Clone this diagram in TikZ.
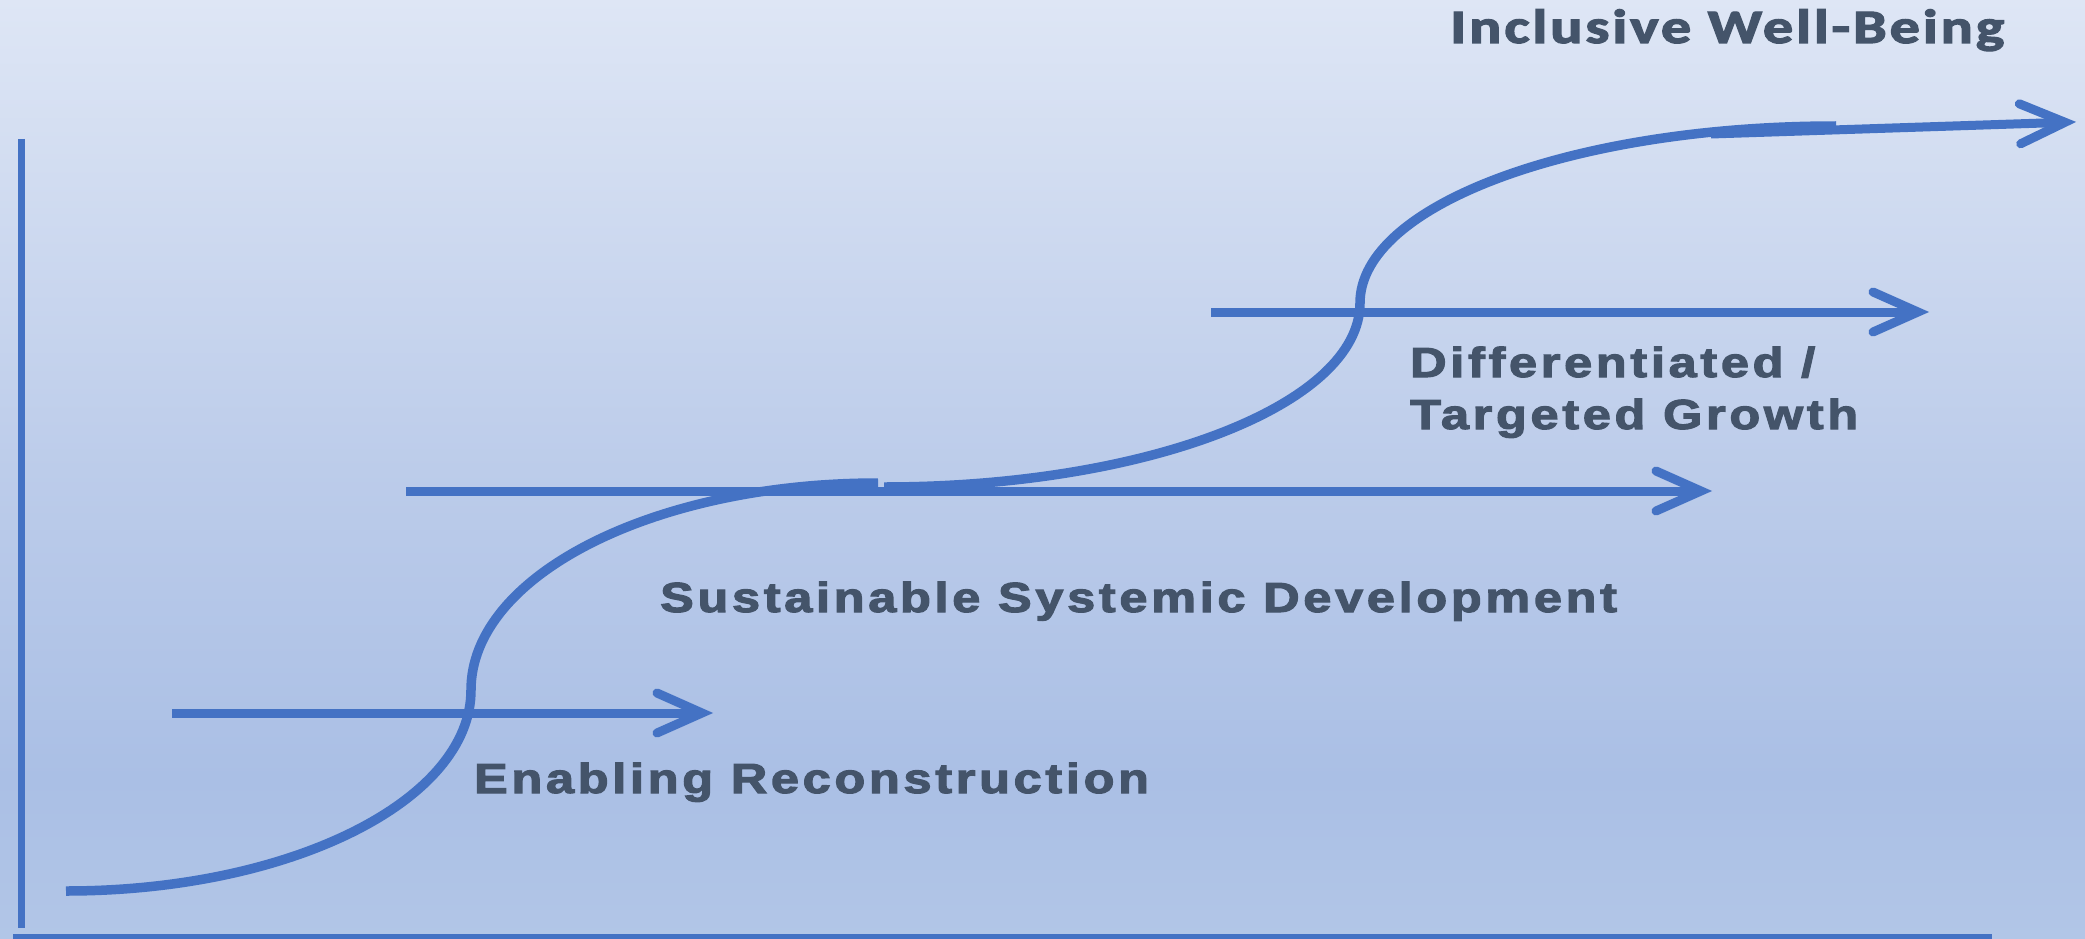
\documentclass[tikz,border=0pt]{standalone}
\usepackage{fontspec}
\newfontfamily\lsansb[LetterSpace=7.4,FakeBold=2.5]{Liberation Sans Bold}
\newfontfamily\carlb[LetterSpace=5,FakeBold=2.5]{Carlito Bold}
\newcommand{\wide}[1]{\scalebox{1.2}[1]{#1}}
\definecolor{lnblue}{HTML}{4472C4}
\definecolor{txt}{HTML}{44546A}
\definecolor{bgT}{HTML}{DEE6F5}
\definecolor{bgM}{HTML}{BCCCEA}
\definecolor{bgL}{HTML}{AABFE5}
\definecolor{bgB}{HTML}{B2C6E7}
\pgfdeclareverticalshading{bgshade}{100bp}{color(0bp)=(bgB); color(25bp)=(bgB); color(33.5bp)=(bgL); color(50bp)=(bgM); color(75bp)=(bgT); color(100bp)=(bgT)}
\tikzset{
  ln/.style={draw=lnblue, line width=9pt, line cap=butt},
  crv/.style={draw=lnblue, line width=9.5pt, line cap=butt},
  barb/.style={draw=lnblue, line width=9pt, line cap=round, line join=miter},
  axisline/.style={draw=lnblue, line width=6.5pt},
  lbl/.style={inner sep=0pt, text=txt, font=\lsansb\fontsize{42}{52}\selectfont},
  ttl/.style={inner sep=0pt, text=txt, font=\carlb\fontsize{48}{58}\selectfont}
}
\begin{document}
\begin{tikzpicture}[x=1pt, y=-1pt]
\useasboundingbox (0,0) rectangle (2085,939);
\fill[shading=bgshade] (0,0) rectangle (2085,939);
% axes
\coordinate (ay0) at (21.5,139);
\coordinate (ay1) at (21.5,928);
\coordinate (ax0) at (13,937.5);
\coordinate (ax1) at (1992,937.5);
\draw[axisline] (ay0) -- (ay1);
\draw[axisline, line width=7pt] (ax0) -- (ax1);
% horizontal arrows
\coordinate (s1) at (172,713);  \coordinate (t1) at (702,713);
\coordinate (s2) at (406,491);  \coordinate (t2) at (1701,491);
\coordinate (s3) at (1211,312); \coordinate (t3) at (1918,312);
\coordinate (s4) at (1711,134); \coordinate (t4) at (2065,122.3);
\draw[ln] (s1) -- (t1);
\draw[ln] (s2) -- (t2);
\draw[ln] (s3) -- (t3);
\draw[ln] (s4) -- (t4);
\draw[barb, shift={(t1)}] (-45,-20) -- (0,0) -- (-45,20);
\draw[barb, shift={(t2)}] (-45,-20) -- (0,0) -- (-45,20);
\draw[barb, shift={(t3)}] (-45,-20) -- (0,0) -- (-45,20);
\draw[barb, shift={(t4)}, rotate=1.9] (-45,-20) -- (0,0) -- (-45,20);
% S-curve
\coordinate (c0) at (66,891);
\coordinate (c1) at (471,690);
\coordinate (c2) at (878,483);
\coordinate (c3) at (884,487);
\coordinate (c4) at (1360,303);
\coordinate (c5) at (1836,126);
\draw[crv] (c0) .. controls (289.7,891) and (471,801) .. (c1)
               .. controls (471,575.7) and (653.2,483) .. (c2);
\draw[crv] (c3) .. controls (1146.9,487) and (1360,404.6) .. (c4)
               .. controls (1360,205.2) and (1573.1,126) .. (c5);
% labels
\node[ttl, anchor=base west] (iwb) at (1450,43) {\scalebox{1.25}[1]{Inclusive Well-Being}};
\node[lbl, anchor=base west, align=left] (dtg) at (1410,429) {\wide{Differentiated /}\\\wide{Targeted Growth}};
\node[lbl, anchor=base west] (ssd) at (660,612) {\wide{Sustainable Systemic Development}};
\node[lbl, anchor=base west] (er) at (474,793) {\wide{Enabling Reconstruction}};
\end{tikzpicture}
\end{document}
